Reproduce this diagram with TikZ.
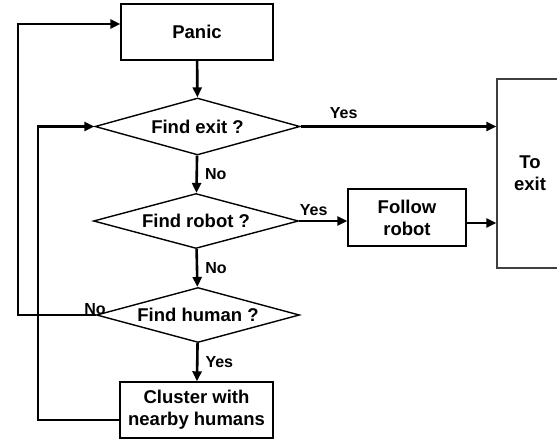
\documentclass[tikz,border=0pt]{standalone}
\usepackage{fontspec}
\setmainfont{Liberation Sans}
\usetikzlibrary{shapes.geometric, positioning, arrows.meta}

\begin{document}
\begin{tikzpicture}[x=1pt, y=-1pt,
          box/.style={rectangle, draw, line width=1.4pt, inner sep=0pt,
                      font=\fontsize{18.5}{22}\selectfont\bfseries, align=center},
          dec/.style={diamond, draw, line width=1.4pt, inner sep=0pt, aspect=3.6,
                      minimum width=205pt, minimum height=57pt,
                      font=\fontsize{18.5}{22}\selectfont\bfseries},
          lbl/.style={font=\fontsize{16}{18}\selectfont\bfseries, inner sep=1pt},
          arr/.style={-{Triangle[length=10pt, width=9pt]}, line width=2.6pt}
        ]
        \useasboundingbox (0,0) rectangle (557,442);

        \node[box, minimum width=152pt, minimum height=56pt] (panic) at (197, 32) {Panic};
        \node[dec] (exit)  at (197.5, 126.5) {Find exit ?};
        \node[dec, minimum height=55pt] (robot) at (196, 221) {Find robot ?};
        \node[dec, minimum width=203pt, minimum height=55pt] (human) at (198, 315) {Find human ?};
        \node[box, minimum width=153pt, minimum height=56pt] (cluster) at (196.5, 410)
              {Cluster with\\nearby humans};
        \node[box, minimum width=118pt, minimum height=57pt] (follow) at (407, 217.5)
              {Follow\\robot};
        \node[box, draw=black!75, minimum width=66pt, minimum height=189pt] (toexit) at (530, 173.5)
              {To\\exit};

        \coordinate (outer) at (18, 24);
        \coordinate (inner) at (38, 420);

        \draw[arr] (panic) -- (exit);
        \draw[arr] (exit.east) -- node[lbl, above=6pt, pos=0.22] {Yes} (exit.east -| toexit.west);
        \draw[arr] (exit) -- node[lbl, right=6pt] {No} (robot);
        \draw[arr] (robot.east) -- node[lbl, above=3pt, pos=0.3] {Yes} (robot.east -| follow.west);
        \draw[arr] (follow.east |- 0,223) -- (toexit.west |- 0,223);
        \draw[arr] (robot) -- node[lbl, right=6pt] {No} (human);
        \draw[arr] (human) -- node[lbl, right=6pt] {Yes} (cluster);
        \draw[arr] (human.west) -- (outer |- human.west) -- (outer) -- (panic.west |- outer);
        \draw[arr] (cluster.west |- inner) -- (inner) -- (inner |- exit.west) -- (exit.west);
        \node[lbl] at (95, 309) {No};
\end{tikzpicture}
\end{document}
